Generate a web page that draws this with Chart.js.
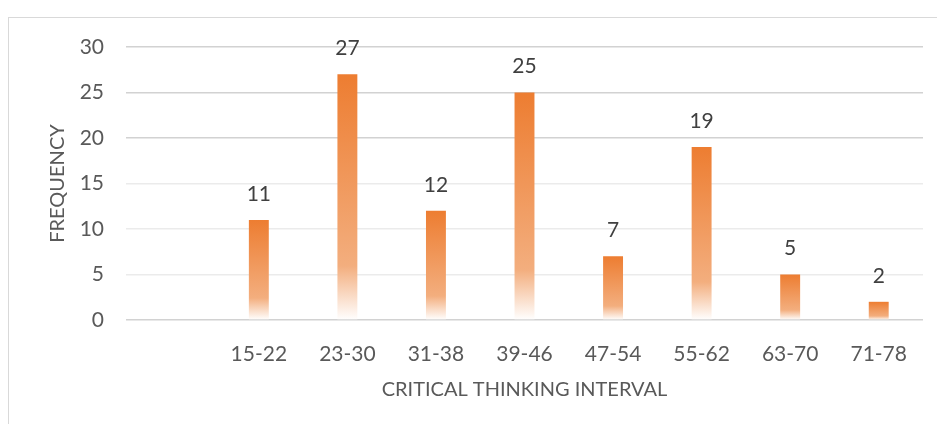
<!DOCTYPE html>
<html>
<head>
<meta charset="utf-8">
<script src="https://cdn.jsdelivr.net/npm/chart.js@4/dist/chart.umd.min.js"></script>
<style>
  html, body { margin: 0; padding: 0; background: #fff; overflow: hidden; }
  #wrap { position: relative; width: 937px; height: 424px; }
  #frame { position: absolute; left: 8px; top: 17px; width: 1000px; height: 1000px;
           border: 1.5px solid #d9d9d9; box-sizing: border-box; }
  canvas { position: absolute; left: 0; top: 0; }
</style>
</head>
<body>
<div id="wrap">
  <div id="frame"></div>
  <canvas id="chart" width="937" height="424"></canvas>
</div>
<script>
// Score intervals (the first slot is left blank) and how many students fall in each
const intervals = ['', '15-22', '23-30', '31-38', '39-46', '47-54', '55-62', '63-70', '71-78'];
const frequency = [null, 11, 27, 12, 25, 7, 19, 5, 2];
const yTicks = [0, 5, 10, 15, 20, 25, 30];

const FONT = 'Lato, "Open Sans", sans-serif';

// Each bar fades from solid orange at its top to white at the baseline
function barGradient(ctx) {
  const chart = ctx.chart;
  const y = chart.scales.y;
  const v = ctx.raw;
  if (!y || v == null) return '#ED7D31';
  const top = y.getPixelForValue(v);
  const base = y.getPixelForValue(0);
  if (!isFinite(top) || !isFinite(base) || top === base) return '#ED7D31';
  const g = chart.ctx.createLinearGradient(0, top, 0, base);
  g.addColorStop(0, '#ED7D31');
  g.addColorStop(0.78, '#F3AE7E');
  g.addColorStop(1, '#FFFFFF');
  return g;
}

// Writes each bar's value above it
const valueLabels = {
  id: 'valueLabels',
  afterDatasetsDraw(chart) {
    const c = chart.ctx;
    const meta = chart.getDatasetMeta(0);
    c.save();
    c.font = '21px ' + FONT;
    c.fillStyle = '#404040';
    c.textAlign = 'center';
    c.textBaseline = 'middle';
    meta.data.forEach((bar, i) => {
      const v = chart.data.datasets[0].data[i];
      if (v == null) return;
      c.fillText(String(v), bar.x, bar.y - 26);
    });
    c.restore();
  }
};

new Chart(document.getElementById('chart'), {
  type: 'bar',
  data: {
    labels: intervals,
    datasets: [{
      data: frequency,
      backgroundColor: barGradient,
      borderWidth: 0,
      barPercentage: 0.45,
      categoryPercentage: 0.5
    }]
  },
  options: {
    responsive: false,
    animation: false,
    devicePixelRatio: 1,
    layout: { padding: { left: 0, right: 14, top: 47, bottom: 0 } },
    plugins: { legend: { display: false }, tooltip: { enabled: false } },
    scales: {
      x: {
        grid: { display: false },
        border: { display: false },
        ticks: { color: '#595959', font: { family: FONT, size: 21 }, padding: 14, maxRotation: 0, autoSkip: false },
        title: { display: true, text: 'CRITICAL THINKING INTERVAL', color: '#595959',
                 font: { family: FONT, size: 20 }, padding: { top: 0, bottom: 22 } },
        afterFit(scale) { scale.height = 104; }
      },
      y: {
        min: 0, max: 30,
        afterBuildTicks(scale) { scale.ticks = yTicks.map(v => ({ value: v })); },
        grid: {
          drawTicks: false,
          lineWidth: 1.5,
          color: (ctx) => {
            const v = ctx.tick ? ctx.tick.value : 0;
            return (v === 0 || v >= 20) ? '#d2d2d2' : '#ebebeb';
          }
        },
        border: { display: false },
        ticks: { color: '#595959', font: { family: FONT, size: 21 }, padding: 22 },
        title: { display: true, text: 'FREQUENCY', color: '#595959',
                 font: { family: FONT, size: 20 }, padding: { top: 46, bottom: 0 } },
        afterFit(scale) { scale.width = 126; }
      }
    }
  },
  plugins: [valueLabels]
});
</script>
</body>
</html>
